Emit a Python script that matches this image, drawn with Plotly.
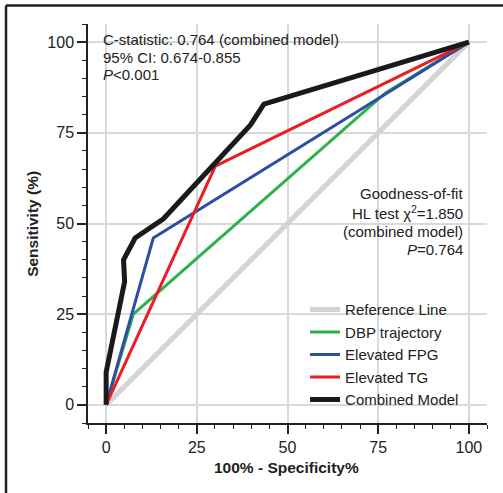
import plotly.graph_objects as go

# ---- data ----
ref_x = [0, 100]
ref_y = [0, 100]

dbp_x = [0, 7.5, 77, 100]
dbp_y = [0, 25, 86, 100]

fpg_x = [0, 13, 76.6, 100]
fpg_y = [0, 46, 85.4, 100]

tg_x = [0, 30.1, 100]
tg_y = [0, 65.8, 100]

comb_x = [0, 0, 5.1, 4.8, 8.0, 15.8, 39.8, 43.5, 100]
comb_y = [0, 9, 34, 40, 46, 51.3, 77.2, 82.9, 100]

series_names = ["Reference Line", "DBP trajectory", "Elevated FPG", "Elevated TG", "Combined Model"]

tick_vals = [0, 25, 50, 75, 100]
tick_text = ["0", "25", "50", "75", "100"]

stat_lines = ["C-statistic: 0.764 (combined model)", "95% CI: 0.674-0.855", "<i>P</i><0.001"]
gof_lines = ["Goodness-of-fit", "HL test χ<sup>2</sup>=1.850", "(combined model)", "<i>P</i>=0.764"]

FONT = "Arial, 'Liberation Sans', sans-serif"

fig = go.Figure()
fig.add_trace(go.Scatter(x=ref_x, y=ref_y, mode="lines", name=series_names[0],
                         line=dict(color="#d3d3d3", width=5)))
fig.add_trace(go.Scatter(x=dbp_x, y=dbp_y, mode="lines", name=series_names[1],
                         line=dict(color="#2bb24c", width=3)))
fig.add_trace(go.Scatter(x=fpg_x, y=fpg_y, mode="lines", name=series_names[2],
                         line=dict(color="#2d4fa3", width=3)))
fig.add_trace(go.Scatter(x=tg_x, y=tg_y, mode="lines", name=series_names[3],
                         line=dict(color="#ec1c24", width=3)))
fig.add_trace(go.Scatter(x=comb_x, y=comb_y, mode="lines", name=series_names[4],
                         line=dict(color="#1a1a1a", width=5)))

axis_common = dict(
    range=[-5, 105], tickvals=tick_vals, ticktext=tick_text,
    showgrid=True, gridcolor="#d9d9d9", gridwidth=1.5,
    zeroline=False, showline=True, linecolor="#222222", linewidth=1.5,
    ticks="outside", ticklen=9, tickwidth=1.5, tickcolor="#222222",
    tickfont=dict(family=FONT, size=16, color="#222222"),
    minor=dict(dtick=5, ticks="outside", ticklen=4, tickwidth=1.2, tickcolor="#222222", showgrid=False),
    fixedrange=True,
)
fig.update_xaxes(**axis_common)
fig.update_yaxes(**axis_common)

annotations = []
stat_y = [100.6, 95.9, 91.1]
for txt, yy in zip(stat_lines, stat_y):
    annotations.append(dict(x=-1.4, y=yy, xref="x", yref="y", text=txt, showarrow=False,
                            xanchor="left", yanchor="middle",
                            font=dict(family=FONT, size=15, color="#222222")))
gof_y = [58.2, 52.9, 47.8, 42.7]
for txt, yy in zip(gof_lines, gof_y):
    annotations.append(dict(x=99.0, y=yy, xref="x", yref="y", text=txt, showarrow=False,
                            xanchor="right", yanchor="middle",
                            font=dict(family=FONT, size=15, color="#222222")))
annotations.append(dict(x=0.4987, y=-0.112, xref="paper", yref="paper", text="<b>100% - Specificity%</b>",
                        showarrow=False, xanchor="center", yanchor="middle",
                        font=dict(family=FONT, size=15.5, color="#222222")))
annotations.append(dict(x=-0.1395, y=0.5, xref="paper", yref="paper", text="<b>Sensitivity (%)</b>",
                        showarrow=False, xanchor="center", yanchor="middle", textangle=-90,
                        font=dict(family=FONT, size=15.5, color="#222222")))

shapes = [
    dict(type="line", xref="paper", yref="paper", x0=-0.2055, x1=1.1, y0=1.0464, y1=1.0464,
         line=dict(color="#222222", width=2.5)),
    dict(type="line", xref="paper", yref="paper", x0=-0.2055, x1=-0.2055, y0=-0.2, y1=1.0464,
         line=dict(color="#222222", width=2.5)),
]

fig.update_layout(
    width=503, height=493,
    margin=dict(l=88, r=16, t=24, b=70),
    paper_bgcolor="white", plot_bgcolor="white",
    font=dict(family=FONT, size=15, color="#222222"),
    showlegend=True,
    hovermode=False,
    legend=dict(x=0.544, y=0.3255, xanchor="left", yanchor="top",
                bgcolor="rgba(0,0,0,0)", borderwidth=0, itemwidth=30,
                font=dict(family=FONT, size=15, color="#222222")),
    annotations=annotations,
    shapes=shapes,
)

fig.write_html("out.html", config={"displayModeBar": False},
               post_script="document.body.style.margin='0';document.body.style.overflow='hidden';")
